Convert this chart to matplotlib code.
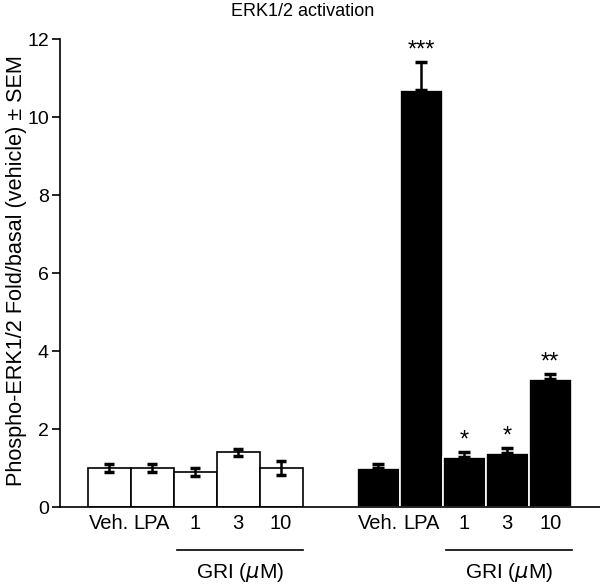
import matplotlib.pyplot as plt
import numpy as np

plt.rcParams['font.family'] = ['Liberation Sans', 'DejaVu Sans']

labels = ['Veh.', 'LPA', '1', '3', '10']
ctrl_vals = [1.0, 1.0, 0.9, 1.4, 1.0]
ctrl_err = [0.1, 0.1, 0.1, 0.1, 0.19]
treat_vals = [1.0, 10.7, 1.28, 1.38, 3.28]
treat_err = [0.1, 0.7, 0.13, 0.13, 0.12]
treat_stars = ['', '***', '*', '*', '**']

fig = plt.figure(figsize=(6, 5.85), dpi=100)
ax = fig.add_axes([0.1, 1 - 507 / 585, 0.9, 468 / 585])

x1 = 1.14 + np.arange(5)
x2 = 7.40 + np.arange(5)

ax.bar(x1, ctrl_vals, width=1.0, color='white', edgecolor='black', linewidth=1.2)
ax.errorbar(x1, ctrl_vals, yerr=ctrl_err, fmt='none', ecolor='black',
            elinewidth=1.8, capsize=3.8, capthick=2.5)
ax.bar(x2, treat_vals, width=1.0, color='black', edgecolor='white', linewidth=1.2)
ax.errorbar(x2, treat_vals, yerr=[np.zeros(5), treat_err], fmt='none', ecolor='black',
            elinewidth=1.8, capsize=4, capthick=2.5)

for x, v, e, s in zip(x2, treat_vals, treat_err, treat_stars):
    if s:
        ax.text(x, v + e + 0.02, s, ha='center', va='bottom', fontsize=17)

ax.set_xlim(0, 540 / 43)
ax.set_ylim(0, 12)
ax.set_yticks([0, 2, 4, 6, 8, 10, 12])
ax.set_xticks(list(x1) + list(x2))
ax.set_xticklabels(labels + labels)
ax.tick_params(axis='x', length=0, labelsize=14.5, pad=5)
ax.tick_params(axis='y', length=6, width=1.2, labelsize=14, pad=2)
ax.spines['top'].set_visible(False)
ax.spines['right'].set_visible(False)
ax.spines['left'].set_linewidth(1.2)
ax.spines['bottom'].set_linewidth(1.2)
ax.set_ylabel('Phospho-ERK1/2 Fold/basal (vehicle) ± SEM', fontsize=15.6)
ax.yaxis.set_label_coords(-0.061, 0.505)
fig.text(303 / 600, 1 - 12 / 585, 'ERK1/2 activation', ha='center', va='center', fontsize=13)

tr = ax.get_xaxis_transform()
for xs in (x1, x2):
    ax.plot([xs[2] - 0.42, xs[4] + 0.5], [-0.092, -0.092], color='black', lw=1.2,
            transform=tr, clip_on=False)
    ax.text((xs[2] + xs[4]) / 2 + 0.05, -0.14, r'GRI ($\mu$M)', ha='center', va='center',
            fontsize=15, transform=tr)

fig.savefig('out.png', dpi=100)
